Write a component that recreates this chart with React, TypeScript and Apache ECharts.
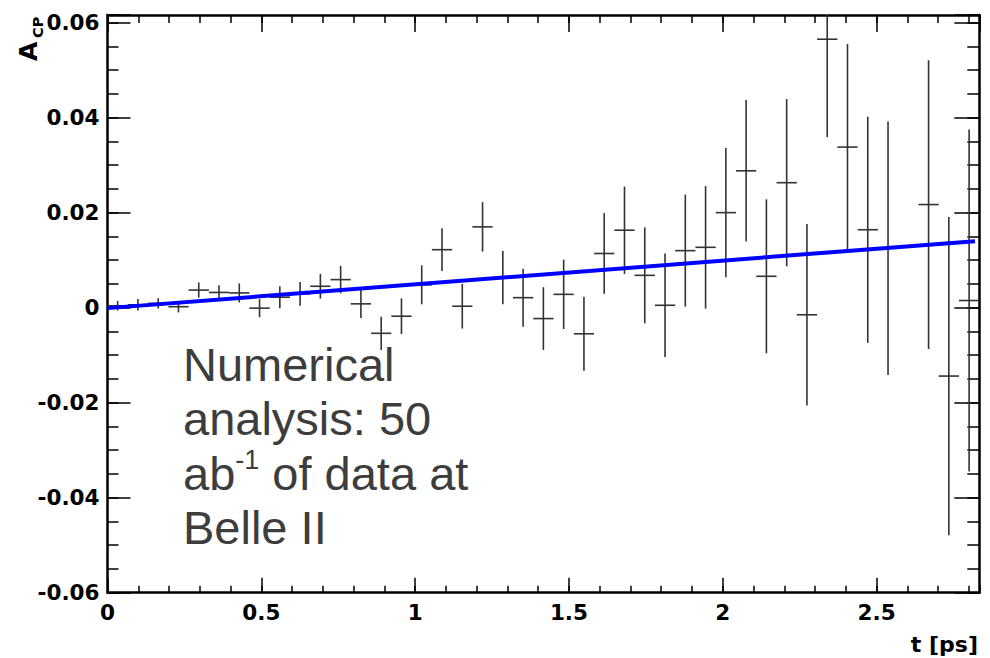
import React, { useEffect, useRef } from 'react';
import * as echarts from 'echarts';

// Bin centres (t in ps), bin width, measured A_CP and its error per bin
const tCenters = [
  0.033, 0.0989, 0.1648, 0.2307, 0.2966, 0.3625, 0.4284, 0.4943, 0.5602, 0.6261,
  0.692, 0.7579, 0.8238, 0.8897, 0.9556, 1.0215, 1.0874, 1.1533, 1.2192, 1.2851,
  1.351, 1.4169, 1.4829, 1.5488, 1.6147, 1.6806, 1.7465, 1.8124, 1.8783, 1.9442,
  2.0101, 2.076, 2.1419, 2.2078, 2.2737, 2.3396, 2.4055, 2.4714, 2.5373,
  2.6691, 2.735, 2.8009,
];
const acpValues = [
  0.0004, 0.0006, 0.0009, 0.0002, 0.0037, 0.0032, 0.0031, -0.0001, 0.0022, 0.0029,
  0.0045, 0.0059, 0.0008, -0.0054, -0.0018, 0.0048, 0.0122, 0.0003, 0.017, 0.0063,
  0.0021, -0.0023, 0.0028, -0.0055, 0.0114, 0.0163, 0.0068, 0.0005, 0.012, 0.0127,
  0.02, 0.0288, 0.0066, 0.0263, -0.0015, 0.0565, 0.0338, 0.0164, 0.0125,
  0.0217, -0.0144, 0.0015,
];
const acpErrors = [
  0.001, 0.0012, 0.0011, 0.0012, 0.0016, 0.0015, 0.002, 0.0019, 0.0023, 0.0025,
  0.0026, 0.0029, 0.003, 0.0035, 0.00375, 0.0041, 0.0045, 0.0047, 0.0052, 0.0056,
  0.0061, 0.0066, 0.0073, 0.0078, 0.0085, 0.0092, 0.0101, 0.0109, 0.0118, 0.0129,
  0.0136, 0.0149, 0.0162, 0.0176, 0.0191, 0.0206, 0.0217, 0.0238, 0.0267,
  0.0304, 0.0335, 0.036,
];
const binWidth = 0.0659;

// Linear fit line
const fitT = [0, 2.82];
const fitA = [-0.0001, 0.014];

const xMin = 0;
const xMax = 2.834;
const yMin = -0.06;
const yMax = 0.0616;

const labelFont = {
  fontFamily: 'DejaVu Sans',
  fontWeight: 'bold' as const,
  fontSize: 21.5,
  color: '#000',
};

const near = (v: number, step: number) => Math.abs(v / step - Math.round(v / step)) < 1e-6;

export default function App() {
  const ref = useRef<HTMLDivElement>(null);

  useEffect(() => {
    document.body.style.margin = '0';
    if (!ref.current) return;
    const chart = echarts.init(ref.current, undefined, { renderer: 'svg' });

    const frameLine = { show: true, onZero: false, lineStyle: { color: '#000', width: 2.5 } };
    const tickStyle = { color: '#000', width: 1.5 };

    const xAxisBase = { type: 'value' as const, min: xMin, max: xMax, splitLine: { show: false } };
    const yAxisBase = { type: 'value' as const, min: yMin, max: yMax, splitLine: { show: false } };

    const option: any = {
      animation: false,
      backgroundColor: '#fff',
      grid: { left: 107.5, right: 10.7, top: 15, bottom: 65.3, containLabel: false },
      xAxis: [
        {
          ...xAxisBase,
          position: 'bottom',
          interval: 0.5,
          axisLine: frameLine,
          axisTick: { inside: true, length: 15, lineStyle: tickStyle },
          axisLabel: {
            ...labelFont,
            margin: 9,
            showMaxLabel: false,
            formatter: (v: number) => (near(v, 0.5) ? String(Math.round(v * 10) / 10) : ''),
          },
        },
        {
          ...xAxisBase,
          position: 'bottom',
          interval: 0.1,
          axisLine: { show: false, onZero: false },
          axisTick: { inside: true, length: 7, lineStyle: tickStyle },
          axisLabel: { show: false },
        },
        {
          ...xAxisBase,
          position: 'top',
          interval: 0.5,
          axisLine: frameLine,
          axisTick: { inside: true, length: 17, lineStyle: tickStyle },
          axisLabel: { show: false },
        },
        {
          ...xAxisBase,
          position: 'top',
          interval: 0.1,
          axisLine: { show: false, onZero: false },
          axisTick: { inside: true, length: 8, lineStyle: tickStyle },
          axisLabel: { show: false },
        },
      ],
      yAxis: [
        {
          ...yAxisBase,
          position: 'left',
          interval: 0.02,
          axisLine: frameLine,
          axisTick: { inside: true, length: 23, lineStyle: tickStyle },
          axisLabel: {
            ...labelFont,
            margin: 8,
            formatter: (v: number) =>
              near(v, 0.02) ? (Math.abs(v) < 1e-9 ? '0' : v.toFixed(2)) : '',
          },
        },
        {
          ...yAxisBase,
          position: 'left',
          interval: 0.005,
          axisLine: { show: false, onZero: false },
          axisTick: { inside: true, length: 11, lineStyle: tickStyle },
          axisLabel: { show: false },
        },
        {
          ...yAxisBase,
          position: 'right',
          interval: 0.02,
          axisLine: frameLine,
          axisTick: { inside: true, length: 25, lineStyle: tickStyle },
          axisLabel: { show: false },
        },
        {
          ...yAxisBase,
          position: 'right',
          interval: 0.005,
          axisLine: { show: false, onZero: false },
          axisTick: { inside: true, length: 12, lineStyle: tickStyle },
          axisLabel: { show: false },
        },
      ],
      series: [
        {
          type: 'custom',
          xAxisIndex: 0,
          yAxisIndex: 0,
          data: tCenters.map((t, i) => [t, acpValues[i], acpErrors[i]]),
          encode: { x: 0, y: 1 },
          renderItem: (params: any, api: any) => {
            const t = api.value(0);
            const v = api.value(1);
            const e = api.value(2);
            const cs = params.coordSys;
            const top = cs.y;
            const bottom = cs.y + cs.height;
            const clampY = (y: number) => Math.min(bottom, Math.max(top, y));
            const lo = api.coord([t, v - e]);
            const hi = api.coord([t, v + e]);
            const l = api.coord([t - binWidth / 2, v]);
            const r = api.coord([t + binWidth / 2, v]);
            const style = { stroke: '#333333', lineWidth: 1.6, fill: null };
            return {
              type: 'group',
              children: [
                {
                  type: 'line',
                  shape: { x1: lo[0], y1: clampY(lo[1]), x2: hi[0], y2: clampY(hi[1]) },
                  style,
                },
                {
                  type: 'line',
                  shape: { x1: l[0], y1: l[1], x2: r[0], y2: r[1] },
                  style,
                },
              ],
            };
          },
          z: 3,
        },
        {
          type: 'line',
          xAxisIndex: 0,
          yAxisIndex: 0,
          data: fitT.map((t, i) => [t, fitA[i]]),
          showSymbol: false,
          symbol: 'none',
          lineStyle: { color: '#0000ff', width: 4 },
          z: 4,
        },
      ],
      graphic: [
        {
          type: 'text',
          x: 183,
          y: 337,
          style: {
            text: 'Numerical\nanalysis: 50\nab{sup|-1} of data at\nBelle II',
            fontFamily: 'Liberation Sans, Arial, sans-serif',
            fontSize: 47,
            lineHeight: 54.5,
            fill: '#3d3d3d',
            align: 'left',
            textAlign: 'left',
            verticalAlign: 'top',
            textVerticalAlign: 'top',
            rich: {
              sup: {
                fontFamily: 'Liberation Sans, Arial, sans-serif',
                fontSize: 27,
                lineHeight: 30,
                verticalAlign: 'top',
                fill: '#3d3d3d',
                color: '#3d3d3d',
              },
            },
          },
        },
        {
          type: 'text',
          x: 978,
          y: 644,
          style: {
            text: 't [ps]',
            fontFamily: 'DejaVu Sans',
            fontWeight: 'bold',
            fontSize: 22,
            fill: '#000',
            align: 'right',
            textAlign: 'right',
            verticalAlign: 'middle',
            textVerticalAlign: 'middle',
          },
        },
        {
          type: 'text',
          x: 28,
          y: 61,
          rotation: Math.PI / 2,
          style: {
            text: 'A',
            fontFamily: 'DejaVu Sans',
            fontWeight: 'bold',
            fontSize: 25,
            fill: '#000',
            align: 'left',
            textAlign: 'left',
            verticalAlign: 'middle',
            textVerticalAlign: 'middle',
          },
        },
        {
          type: 'text',
          x: 38,
          y: 38,
          rotation: Math.PI / 2,
          style: {
            text: 'CP',
            fontFamily: 'DejaVu Sans',
            fontWeight: 'bold',
            fontSize: 14.5,
            fill: '#000',
            align: 'left',
            textAlign: 'left',
            verticalAlign: 'middle',
            textVerticalAlign: 'middle',
          },
        },
      ],
    };

    chart.setOption(option);
    return () => chart.dispose();
  }, []);

  return <div ref={ref} style={{ width: 990, height: 658 }} />;
}
